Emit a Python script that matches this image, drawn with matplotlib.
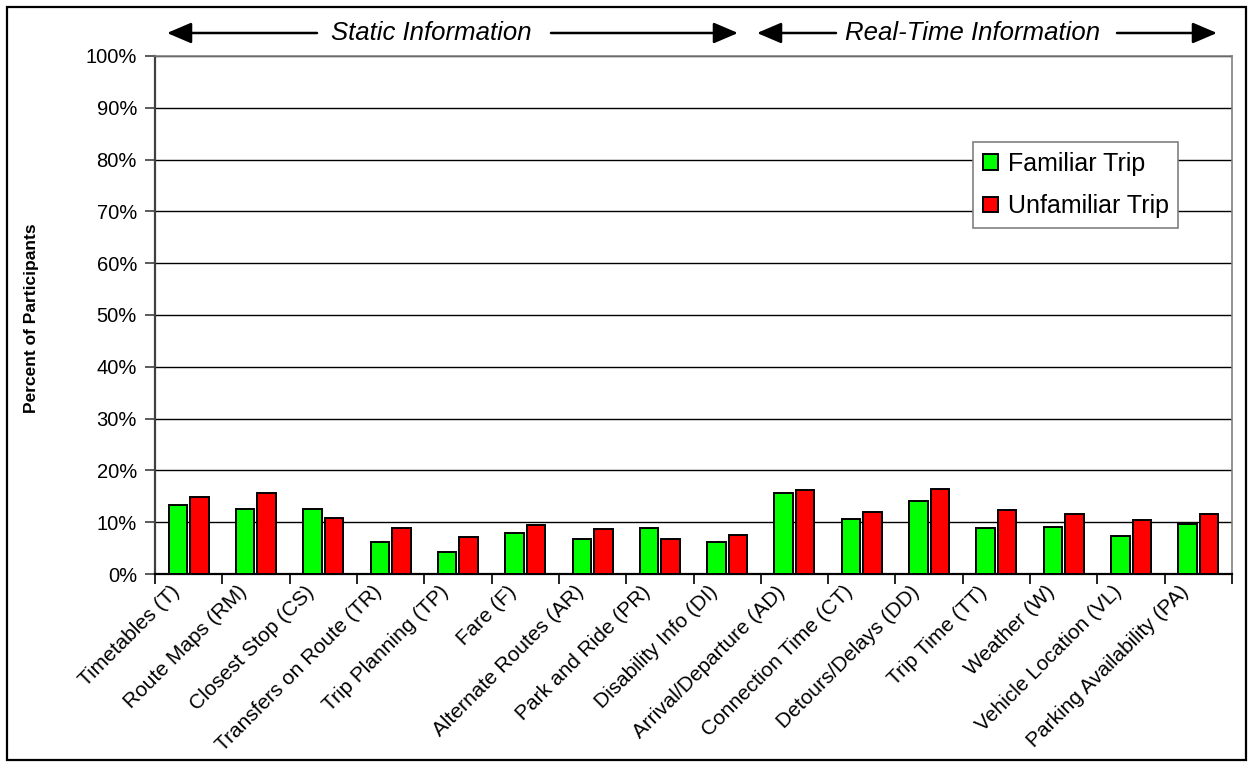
import numpy as np
import matplotlib
matplotlib.use("Agg")
import matplotlib.pyplot as plt
from matplotlib.ticker import PercentFormatter, FixedLocator
from matplotlib.patches import Rectangle, FancyArrowPatch

plt.rcParams['font.family'] = ['Liberation Sans', 'DejaVu Sans']

categories = ["Timetables (T)", "Route Maps (RM)", "Closest Stop (CS)",
              "Transfers on Route (TR)", "Trip Planning (TP)", "Fare (F)",
              "Alternate Routes (AR)", "Park and Ride (PR)", "Disability Info (DI)",
              "Arrival/Departure (AD)", "Connection Time (CT)", "Detours/Delays (DD)",
              "Trip Time (TT)", "Weather (W)", "Vehicle Location (VL)",
              "Parking Availability (PA)"]
familiar = [13.3, 12.5, 12.5, 6.2, 4.2, 8.0, 6.8, 8.9, 6.2,
            15.6, 10.7, 14.1, 8.9, 9.1, 7.3, 9.7]
unfamiliar = [14.9, 15.6, 10.9, 8.9, 7.1, 9.4, 8.6, 6.8, 7.6,
              16.2, 12.0, 16.5, 12.3, 11.5, 10.4, 11.5]
series_names = ["Familiar Trip", "Unfamiliar Trip"]
yticks = np.arange(0, 101, 10)

W, H = 1249, 766
fig = plt.figure(figsize=(W / 100, H / 100), dpi=100)
fig.patch.set_facecolor('white')

# outer chart border
fig.patches.append(Rectangle((7 / W, 6 / H), (1246 - 7) / W, (759 - 6) / H,
                             transform=fig.transFigure, fill=False,
                             edgecolor='black', linewidth=1.6, zorder=0))

ax = fig.add_axes([155 / W, 1 - 574 / H, (1232 - 155) / W, (574 - 56) / H])

x = np.arange(len(categories))
bw = 0.275
ax.bar(x - 0.16, familiar, bw, color='#00ff00', edgecolor='black',
       linewidth=1.4, label=series_names[0], zorder=3)
ax.bar(x + 0.16, unfamiliar, bw, color='#ff0000', edgecolor='black',
       linewidth=1.4, label=series_names[1], zorder=3)

ax.set_xlim(-0.5, len(categories) - 0.5)
ax.set_ylim(0, 100)
ax.set_yticks(yticks)
ax.yaxis.set_major_formatter(PercentFormatter(decimals=0))
ax.tick_params(axis='y', labelsize=14.5, length=7, width=1.2, color='#404040', pad=6)

# ticks between categories; labels sit a little left of each centre
ax.xaxis.set_major_locator(FixedLocator(np.arange(-0.5, len(categories), 1)))
ax.set_xticklabels([])
ax.set_xticks(x - 0.28, categories, minor=True)
ax.tick_params(axis='x', which='major', length=7, width=1.2, color='black')
ax.tick_params(axis='x', which='minor', length=0, pad=6, labelsize=15)
for lbl in ax.get_xticklabels(minor=True):
    lbl.set_rotation(45)
    lbl.set_ha('right')
    lbl.set_va('top')
    lbl.set_rotation_mode('anchor')

ax.yaxis.grid(True, color='black', linewidth=1.0, zorder=0)
ax.set_axisbelow(True)
for side in ['top', 'right']:
    ax.spines[side].set_color('#808080')
    ax.spines[side].set_linewidth(1.2)
ax.spines['left'].set_color('#404040')
ax.spines['left'].set_linewidth(1.6)
ax.spines['bottom'].set_color('black')
ax.spines['bottom'].set_linewidth(1.6)

fig.text(32 / W, 1 - 318 / H, "Percent of Participants", rotation=90,
         ha='center', va='center', fontsize=12.5, fontweight='bold')

leg = ax.legend(loc='upper left', bbox_to_anchor=(973 / W, 1 - 142 / H),
                bbox_transform=fig.transFigure, fontsize=18, frameon=True,
                fancybox=False, edgecolor='#808080', framealpha=1,
                handlelength=0.6, handleheight=0.6, handletextpad=0.4,
                labelspacing=0.75, borderpad=0.38, borderaxespad=0)
leg.get_frame().set_linewidth(1.2)

# section headers with arrows
y_arr = 1 - 33 / H
arrow_kw = dict(arrowstyle='-|>,head_length=0.75,head_width=0.32', color='black',
                linewidth=1.8, shrinkA=0, shrinkB=0)
for start, tip in [(317, 167), (551, 738), (836, 757), (1117, 1217)]:
    fig.add_artist(FancyArrowPatch(
        (start / W, y_arr), (tip / W, y_arr), transform=fig.transFigure,
        mutation_scale=20, **arrow_kw))
fig.text(431 / W, y_arr, "Static Information", ha='center', va='center',
         fontsize=18.5, fontstyle='italic')
fig.text(973 / W, y_arr, "Real-Time Information", ha='center', va='center',
         fontsize=18.5, fontstyle='italic')

fig.savefig("out.png", dpi=100)
